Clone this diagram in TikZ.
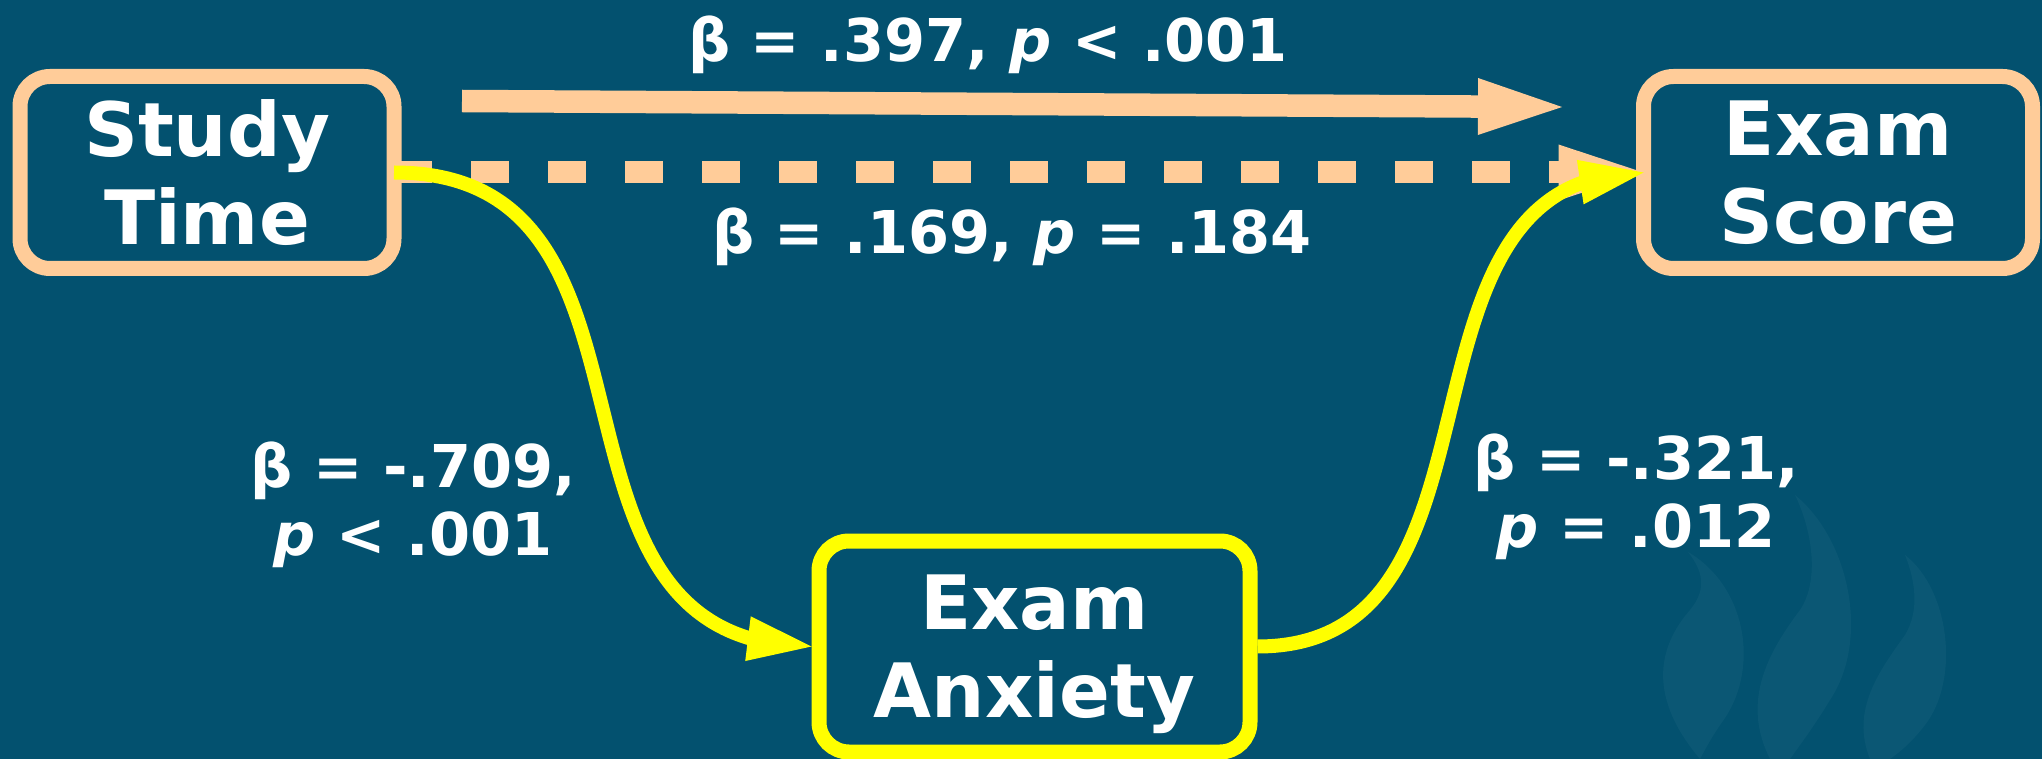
\documentclass[tikz,border=0pt]{standalone}
\usepackage{fontspec}
\setmainfont{DejaVu Sans}
\usetikzlibrary{arrows.meta,bending}
\definecolor{bgblue}{RGB}{3,81,111}
\definecolor{peach}{RGB}{255,204,153}
\definecolor{yel}{RGB}{255,255,0}
\begin{document}
\begin{tikzpicture}[x=0.5pt,y=-0.5pt,
  box/.style={rectangle, rounded corners=15pt, line width=7.5pt, fill=bgblue,
    inner sep=0pt, align=center, text=white,
    font=\fontsize{37.5}{44}\selectfont\bfseries},
  lbl/.style={text=white, align=center, inner sep=0pt,
    font=\fontsize{29.5}{34}\selectfont\bfseries},
  flame/.style={fill=white, opacity=0.035},
  peachline/.style={draw=peach, line width=11.25pt},
  yelline/.style={draw=yel, line width=7pt,
    -{Triangle[length=32pt,width=22.5pt,line width=0pt,flex]}}
]
\useasboundingbox (0,0) rectangle (2042,759);
\fill[bgblue] (0,0) rectangle (2042,759);
% faint watermark flames
\fill[flame] (1700,759) .. controls (1650,700) and (1655,650) .. (1690,610)
  .. controls (1708,588) and (1702,570) .. (1688,552)
  .. controls (1745,585) and (1760,665) .. (1725,718)
  .. controls (1712,736) and (1706,748) .. (1700,759) -- cycle;
\fill[flame] (1770,759) .. controls (1740,700) and (1770,650) .. (1800,610)
  .. controls (1820,580) and (1812,530) .. (1795,495)
  .. controls (1850,540) and (1870,640) .. (1830,700)
  .. controls (1815,725) and (1800,745) .. (1790,759) -- cycle;
\fill[flame] (1870,759) .. controls (1850,710) and (1880,670) .. (1905,635)
  .. controls (1920,610) and (1915,580) .. (1905,555)
  .. controls (1950,590) and (1960,680) .. (1925,725)
  .. controls (1912,742) and (1900,752) .. (1890,759) -- cycle;

\node[box, draw=peach, outer sep=0pt, minimum width=187pt, minimum height=96pt]
  (study) at (207,172.5) {Study\\Time};
\node[box, draw=peach, outer sep=0pt, minimum width=194.5pt, minimum height=96pt]
  (score) at (1838,172.5) {Exam\\Score};
\node[box, draw=yel, minimum width=215.5pt, minimum height=105.5pt]
  (anx) at (1034.5,646.5) {Exam\\\smash{Anxiety}};

\coordinate (d1) at (462,101);
\coordinate (d2) at (1562,107);

\node[lbl, anchor=base] (l1) at (988,62) {β = .397, \textit{p} < .001};
\node[lbl, anchor=base] (l2) at (1012,254) {β = .169, \textit{p} = .184};
\node[lbl] (l3) at (413,504.5) {β = -.709,\\\textit{p} < .001};
\node[lbl] (l4) at (1636,496.5) {β = -.321,\\\textit{p} = .012};

\draw[peachline, -{Triangle[length=42pt,width=28.5pt,line width=0pt]}] (d1) -- (d2);
\draw[peachline, line width=11pt, dash pattern=on 19pt off 19.5pt,
  -{Triangle[length=42.5pt,width=28pt,line width=0pt]}] (study.east) -- (score.west);
\draw[yelline] (study.east) .. controls +(300,0) and +(-300,0) .. (anx.west);
\draw[yelline] (anx.east) .. controls +(270,0) and +(-270,0) .. (score.west);
\end{tikzpicture}
\end{document}
